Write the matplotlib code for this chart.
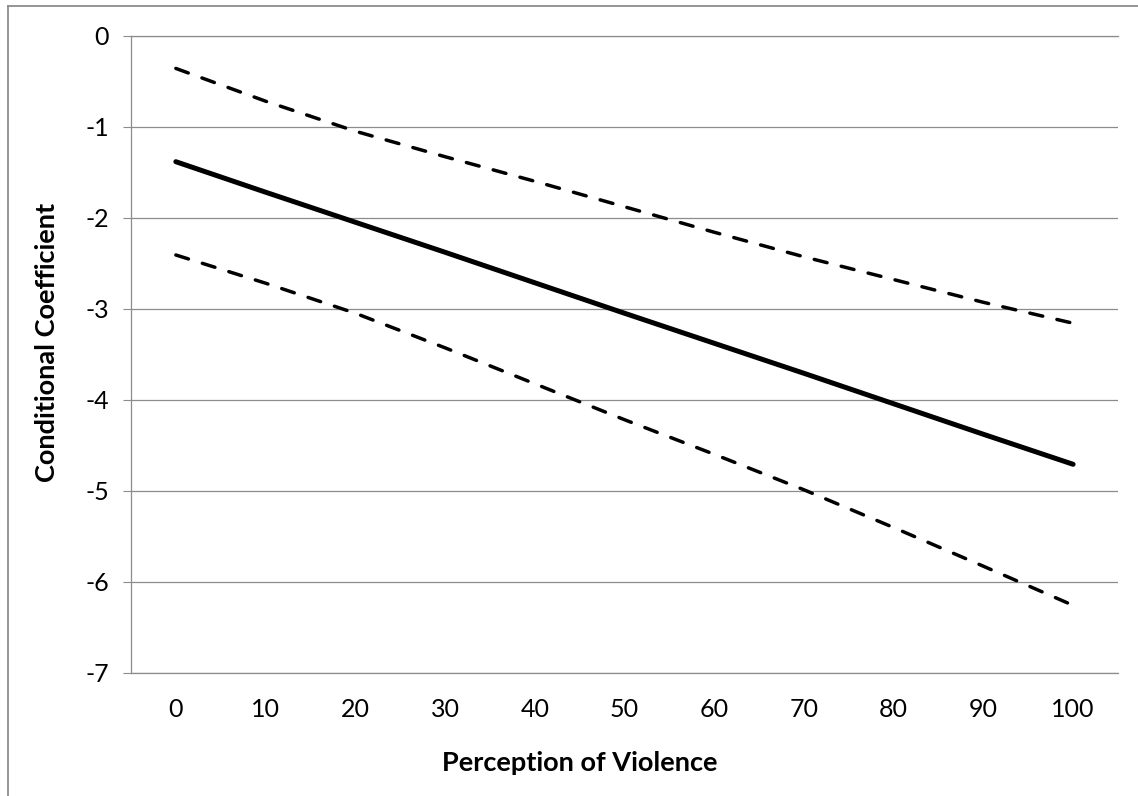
import matplotlib
matplotlib.use('Agg')
import matplotlib.pyplot as plt
from matplotlib.lines import Line2D
import numpy as np

# values
categories = ['0', '10', '20', '30', '40', '50', '60', '70', '80', '90', '100']
coefficient = [-1.385, -1.72, -2.05, -2.38, -2.715, -3.05, -3.38, -3.71, -4.045, -4.38, -4.71]
upper_bound = [-0.36, -0.72, -1.05, -1.33, -1.60, -1.88, -2.16, -2.43, -2.68, -2.93, -3.16]
lower_bound = [-2.41, -2.72, -3.05, -3.43, -3.825, -4.22, -4.60, -4.99, -5.405, -5.83, -6.26]
y_ticks = [0, -1, -2, -3, -4, -5, -6, -7]

grid_color = '#8c8c8c'
plt.rcParams['font.family'] = ['Lato', 'DejaVu Sans']

figure = plt.figure(figsize=(11.38, 7.96), dpi=100)
axes = figure.add_axes([0.1151, 0.1549, 0.8673, 0.8003])

x = np.arange(len(categories))
axes.plot(x, coefficient, color='black', linewidth=3.6, solid_capstyle='round')
for band in (upper_bound, lower_bound):
    axes.plot(x, band, color='black', linewidth=2.5, linestyle=(0, (3.8, 4.2)),
              dash_capstyle='round')

axes.set_xlim(-0.5, len(categories) - 0.5)
axes.set_ylim(-7, 0)
axes.set_xticks(x)
axes.set_xticklabels(categories)
axes.set_yticks(y_ticks)
axes.set_yticklabels([str(v) for v in y_ticks])
axes.tick_params(axis='x', length=0, pad=18, labelsize=18)
axes.tick_params(axis='y', length=5.8, width=0.8, color=grid_color, direction='out',
                 pad=10, labelsize=18)

axes.yaxis.grid(True, color=grid_color, linewidth=0.9)
axes.set_axisbelow(True)
for side in ('left', 'bottom', 'top'):
    axes.spines[side].set_color(grid_color)
    axes.spines[side].set_linewidth(0.9)
axes.spines['right'].set_visible(False)

axes.set_xlabel('Perception of Violence', fontsize=19.5, fontweight='bold')
axes.xaxis.set_label_coords(0.455, -0.123)
axes.set_ylabel('Conditional Coefficient', fontsize=19.5, fontweight='bold')
axes.yaxis.set_label_coords(-0.073, 0.519)

# chart border (only left and top visible in the reference)
figure.add_artist(Line2D([7.5 / 1138, 7.5 / 1138], [0, 1 - 6 / 796],
                         color=grid_color, linewidth=1.3, transform=figure.transFigure))
figure.add_artist(Line2D([7.5 / 1138, 1], [1 - 6 / 796, 1 - 6 / 796],
                         color=grid_color, linewidth=1.3, transform=figure.transFigure))

figure.savefig('out.png', dpi=100)
